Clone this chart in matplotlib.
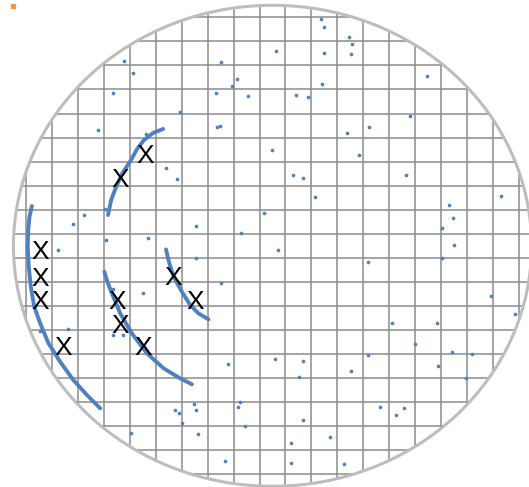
import numpy as np
import matplotlib
matplotlib.use("Agg")
import matplotlib.pyplot as plt
from matplotlib.patches import Circle

# ---------------------------
# Wafer map data (die units, wafer centre at 0,0)
# ---------------------------
wafer_radius = 10

# isolated defects
defect_x = [-5.73, -5.37, -6.16, -6.74, -4.88, -3.58, -1.97, -1.39, -1.57, -2.19,
            -0.94, -2.13, -2.02, 1.87, 1.99, 2.95, 3.08, 0.13, 1.99, 3.03,
            5.97, 1.91, 0.92, 1.38, 5.30, 3.74, 2.86, -0.01, 3.35, 0.80,
            1.19, 5.17, 1.64, 8.83, 6.82, 6.96, -0.34, 6.56, 0.21, 7.00,
            6.56, 3.69, 8.43, 9.36, 4.63, 6.33, 5.50, 6.92, 7.71, 0.09,
            1.16, 3.70, 6.38, 1.03, 3.03, 7.45, 4.14, 5.07, 4.77, 1.16,
            0.71, 2.23, 0.71, 2.77, -8.97, -7.90, -6.16, -5.77, -1.71, -3.04,
            -3.76, -3.60, -2.95, -3.49, -1.25, -1.35, -1.07, -5.46, -2.86, -1.84,
            -4.12, -3.67, -7.29, -7.70, -6.48, -2.96, -1.22, -8.30, -6.43, -4.79,
            -2.96, -1.97, -5.01, -6.15]
defect_y = [7.67, 7.19, 6.34, 4.81, 4.65, 5.56, 7.64, 6.92, 6.63, 6.34,
            6.22, 4.94, 4.98, 9.42, 9.09, 8.67, 8.38, 8.09, 8.00, 7.96,
            7.05, 6.72, 6.27, 6.17, 5.40, 4.94, 4.68, 3.97, 3.78, 2.94,
            2.82, 2.94, 2.03, 2.07, 1.70, 1.16, 1.36, 0.74, -0.17, 0.05,
            -0.49, -0.66, -2.07, -2.82, -3.23, -3.19, -4.07, -4.40, -4.49, -4.72,
            -4.78, -4.53, -4.99, -5.44, -5.19, -5.51, -6.72, -6.73, -7.05, -7.23,
            -8.21, -7.94, -9.04, -9.09, -3.56, -3.45, -3.73, -3.73, -4.90, -6.59,
            -6.84, -6.96, -6.84, -7.38, -6.48, -6.72, -7.51, -7.80, -7.84, -8.95,
            3.23, 2.78, 1.29, 0.91, 1.53, 0.84, 0.54, -0.17, 0.25, 0.34,
            -0.49, -1.53, -1.95, -1.81]

# scratch arcs
scratch_a_x = [-4.22, -4.61, -4.96, -5.23, -5.46, -5.81, -6.04, -6.23, -6.35]
scratch_a_y = [4.86, 4.69, 4.40, 4.02, 3.57, 2.99, 2.44, 1.90, 1.28]
scratch_b_x = [-9.29, -9.38, -9.43, -9.45, -9.41, -9.33, -9.20, -8.97, -8.65,
               -8.20, -7.69, -7.17, -6.65]
scratch_b_y = [1.65, 1.21, 0.66, -0.04, -0.87, -1.70, -2.53, -3.22, -4.05,
               -4.82, -5.58, -6.20, -6.76]
scratch_c_x = [-6.49, -6.40, -6.20, -5.88, -5.43, -4.85, -4.21, -3.57, -3.11]
scratch_c_y = [-1.08, -1.42, -1.98, -2.81, -3.64, -4.47, -5.09, -5.51, -5.76]
scratch_d_x = [-4.11, -4.02, -3.82, -3.50, -3.18, -2.86, -2.47]
scratch_d_y = [-0.15, -0.59, -1.28, -1.91, -2.46, -2.81, -3.06]

# failing dies marked with X
fail_x = [-4.92, -5.88, -8.98, -8.98, -8.98, -8.07, -6.0, -5.88, -4.98, -3.82, -2.97]
fail_y = [3.85, 2.86, -0.17, -1.26, -2.22, -4.15, -2.25, -3.22, -4.15, -1.24, -2.25]

blue = "#4F81BD"

fig = plt.figure(figsize=(5.29, 4.87), dpi=100)
ax = fig.add_axes([0, 0, 1, 1])
ax.set_xlim(-10.52, 9.90)
ax.set_ylim(-10.03, 10.22)
ax.axis("off")

# wafer outline + die grid clipped to it
wafer = Circle((0, 0), wafer_radius, facecolor="none", edgecolor="#bdbdbd", linewidth=2.2, zorder=3)
ax.add_patch(wafer)
clip = Circle((0, 0), wafer_radius, transform=ax.transData)
for g in np.arange(-9.5, 10, 1.0):
    ln = ax.plot([g, g], [-wafer_radius, wafer_radius], color="#8c8c8c", linewidth=1.1, zorder=1)[0]
    ln.set_clip_path(clip)
    ln = ax.plot([-wafer_radius, wafer_radius], [g, g], color="#8c8c8c", linewidth=1.1, zorder=1)[0]
    ln.set_clip_path(clip)

# scratches
for sx, sy in [(scratch_a_x, scratch_a_y), (scratch_b_x, scratch_b_y),
               (scratch_c_x, scratch_c_y), (scratch_d_x, scratch_d_y)]:
    ax.plot(sx, sy, color=blue, linewidth=2.8, solid_capstyle="round", zorder=4)

# isolated defects
ax.scatter(defect_x, defect_y, s=7, color=blue, linewidths=0, zorder=4)

# orange legend-like marker at top left
ax.plot([-10.0], [9.97], marker="s", markersize=2.3, color="#F79646", linestyle="none", zorder=5)

# X marks
for x, y in zip(fail_x, fail_y):
    ax.text(x, y, "X", fontsize=19, family="Liberation Sans", ha="center", va="center_baseline",
            color="black", zorder=6)

fig.savefig("out.png", dpi=100)
